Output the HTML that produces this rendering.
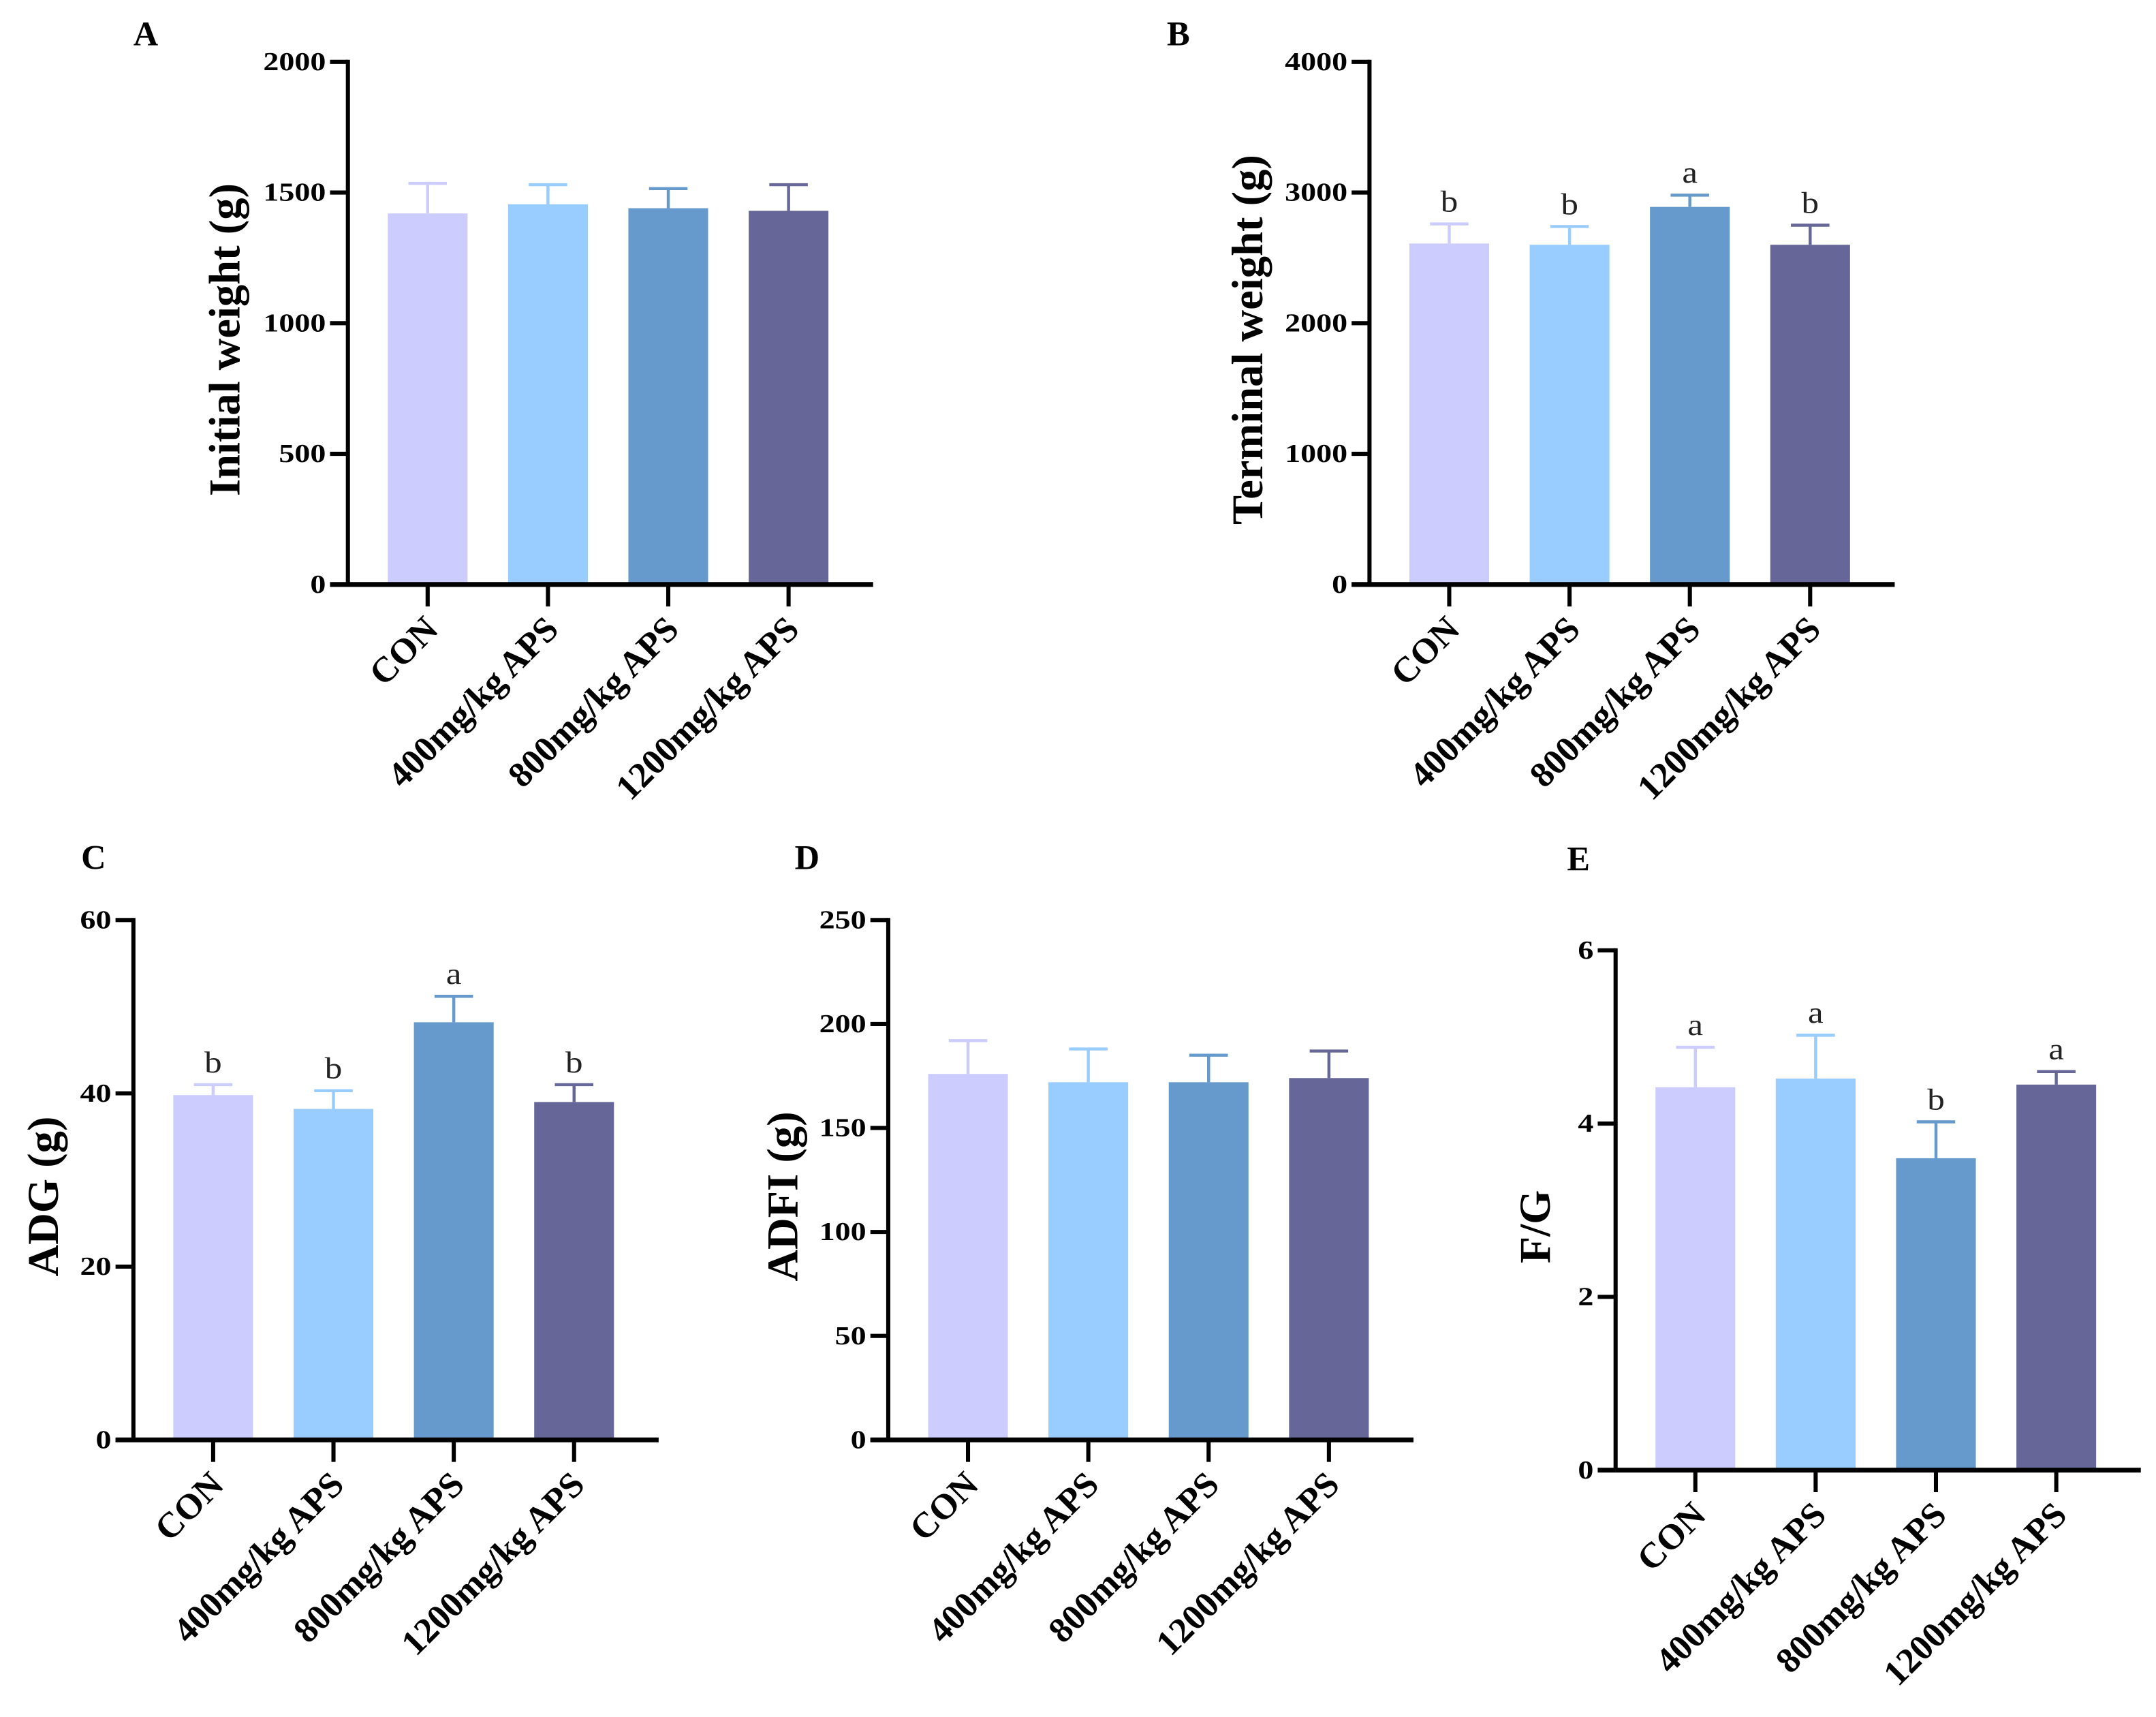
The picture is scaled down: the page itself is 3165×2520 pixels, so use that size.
<!DOCTYPE html>
<html><head><meta charset="utf-8">
<style>
html,body{margin:0;padding:0;background:#fff;}
svg{display:block;}
text{font-family:"Liberation Serif",serif;}
</style></head>
<body>
<svg id="fig" width="3165" height="2520" viewBox="0 0 1568 1248.5" xmlns="http://www.w3.org/2000/svg"></svg>
<script>
const categories = ["CON","400mg/kg APS","800mg/kg APS","1200mg/kg APS"];
const colors = ["#CCCCFF","#99CCFF","#6699CC","#666699"];
const initialMeans = [1420,1455,1440,1430];
const initialErr = [1535,1530,1515,1530];
const terminalMeans = [2610,2600,2890,2600];
const terminalErr = [2760,2740,2980,2750];
const terminalLetters = ["b","b","a","b"];
const adgMeans = [39.8,38.2,48.2,39.0];
const adgErr = [41.0,40.3,51.2,41.0];
const adgLetters = ["b","b","a","b"];
const adfiMeans = [176,172,172,174];
const adfiErr = [192,188,185,187];
const fgMeans = [4.42,4.52,3.60,4.45];
const fgErr = [4.88,5.02,4.02,4.60];
const fgLetters = ["a","a","b","a"];
const initialTicks = [0,500,1000,1500,2000];
const terminalTicks = [0,1000,2000,3000,4000];
const adgTicks = [0,20,40,60];
const adfiTicks = [0,50,100,150,200,250];
const fgTicks = [0,2,4,6];

const NS="http://www.w3.org/2000/svg";
const svg=document.getElementById('fig');
function mk(tag,attrs,parent){const e=document.createElementNS(NS,tag);for(const k in attrs)e.setAttribute(k,attrs[k]);(parent||svg).appendChild(e);return e;}

const panels=[
 {id:'a',letter:'A',lx:106,ly:33,ax:253,top:45,bot:425,max:2000,ticks:initialTicks,means:initialMeans,err:initialErr,letters:null,ylabel:'Initial weight (g)',ylx:174},
 {id:'b',letter:'B',lx:857,ly:33,ax:996,top:45,bot:425,max:4000,ticks:terminalTicks,means:terminalMeans,err:terminalErr,letters:terminalLetters,ylabel:'Terminal weight (g)',ylx:918},
 {id:'c',letter:'C',lx:68,ly:632,ax:97,top:669,bot:1047,max:60,ticks:adgTicks,means:adgMeans,err:adgErr,letters:adgLetters,ylabel:'ADG (g)',ylx:42},
 {id:'d',letter:'D',lx:587,ly:632,ax:646,top:669,bot:1047,max:250,ticks:adfiTicks,means:adfiMeans,err:adfiErr,letters:null,ylabel:'ADFI (g)',ylx:580},
 {id:'e',letter:'E',lx:1148,ly:633,ax:1175,top:691,bot:1069,max:6,ticks:fgTicks,means:fgMeans,err:fgErr,letters:fgLetters,ylabel:'F/G',ylx:1127}
];

panels.forEach(p=>{
 const g=mk('g',{});
 
 
 const y=v=>p.bot-(v/p.max)*(p.bot-p.top);
 const xc=i=>p.ax+58+i*87.5;
 const pl=mk('text',{x:p.lx,y:p.ly,'font-size':25,'font-weight':'bold','text-anchor':'middle'},g);
 pl.textContent=p.letter;
 
 
 p.means.forEach((m,i)=>{
  const cx=xc(i);
  const r=mk('rect',{x:cx-29,y:y(m),width:58,height:p.bot-y(m),fill:colors[i]},g);
  
  
  const eb=mk('path',{d:`M${cx},${y(m)}V${y(p.err[i])}M${cx-14},${y(p.err[i])}H${cx+14}`,stroke:colors[i],'stroke-width':2.2,fill:'none'},g);
  
  
  if(p.letters){
   const t=mk('text',{x:0,y:0,'font-size':22,'text-anchor':'middle',fill:'#222',transform:`translate(${cx},${y(p.err[i])-9}) scale(1.15,1)`},g);
   t.textContent=p.letters[i];
   
   
  }
  const tk=mk('line',{x1:cx,x2:cx,y1:p.bot,y2:p.bot+16,stroke:'#000','stroke-width':3},g);
  
  
  const lt=mk('text',{x:0,y:0,'font-size':26,'font-weight':'bold','text-anchor':'end',transform:`translate(${cx+9},${p.bot+34}) rotate(-45)`},g);
  lt.textContent=categories[i];
  
  
 });
 const ya=mk('line',{x1:p.ax,x2:p.ax,y1:p.top-1.5,y2:p.bot,stroke:'#000','stroke-width':3},g);
 
 
 const xa=mk('line',{x1:p.ax-13,x2:p.ax+382,y1:p.bot,y2:p.bot,stroke:'#000','stroke-width':3.5},g);
 
 
 p.ticks.forEach(v=>{
  const tl=mk('line',{x1:p.ax-13,x2:p.ax,y1:y(v),y2:y(v),stroke:'#000','stroke-width':3},g);
  
  
  const tt=mk('text',{x:0,y:0,'font-size':19,'font-weight':'bold','text-anchor':'end',transform:`translate(${p.ax-16},${y(v)+6}) scale(1.2,1)`},g);
  tt.textContent=v;
  
  
 });
 const yl=mk('text',{x:0,y:0,'font-size':32,'font-weight':'bold','text-anchor':'middle',transform:`translate(${p.ylx},${(p.top+p.bot)/2+12}) rotate(-90)`},g);
 yl.textContent=p.ylabel;
 
 
});
</script>
</body></html>
